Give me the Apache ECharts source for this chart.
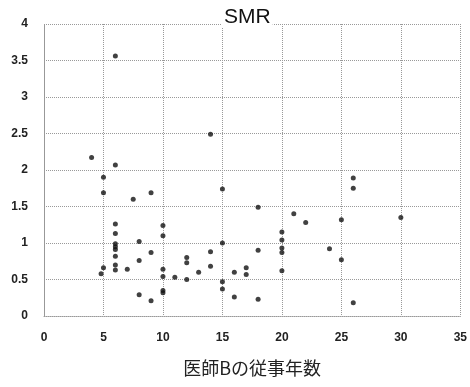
<!DOCTYPE html>
<html>
<head>
<meta charset="utf-8">
<script src="https://cdn.jsdelivr.net/npm/echarts@6/dist/echarts.min.js"></script>
<style>
  html, body { margin: 0; padding: 0; background: #fff; }
  #chart { width: 470px; height: 387px; }
</style>
</head>
<body>
<div id="chart"></div>
<script>
// Years of practice for physician B
const years = [
  6, 14, 4, 6, 5, 5, 7.5, 9, 15,
  6, 6, 6, 6, 6, 6, 6, 6, 5, 4.8, 7,
  8, 8, 9, 8, 9,
  10, 10, 10, 10, 10, 10, 11, 12, 12, 12, 13, 14, 14,
  15, 15, 15, 16, 16, 17, 17,
  18, 18, 18, 21, 22, 20, 20, 20, 20, 20,
  24, 25, 25, 26, 26, 26, 30
];
// Standardised mortality ratio
const smr = [
  3.56, 2.49, 2.17, 2.07, 1.90, 1.69, 1.60, 1.69, 1.74,
  1.26, 1.13, 0.99, 0.95, 0.91, 0.82, 0.70, 0.63, 0.66, 0.58, 0.64,
  1.02, 0.76, 0.87, 0.29, 0.21,
  1.24, 1.10, 0.64, 0.54, 0.35, 0.32, 0.53, 0.80, 0.73, 0.50, 0.60, 0.88, 0.68,
  1.00, 0.47, 0.37, 0.60, 0.26, 0.66, 0.57,
  1.49, 0.90, 0.23, 1.40, 1.28, 1.15, 1.04, 0.93, 0.87, 0.62,
  0.92, 1.32, 0.77, 1.89, 1.75, 0.18, 1.35
];
const points = years.map((x, i) => [x, smr[i]]);

const chart = echarts.init(document.getElementById('chart'));
const grid = { type: 'dotted', color: '#999', width: 1 };
const labelFont = { color: '#222', fontSize: 12, fontFamily: 'Liberation Sans', fontWeight: 'bold' };

chart.setOption({
  animation: false,
  title: {
    text: 'SMR',
    left: 222, top: 7,
    padding: [0, 2],
    backgroundColor: '#fff',
    textStyle: { fontSize: 21, fontWeight: 'normal', color: '#111', fontFamily: 'Liberation Sans' }
  },
  grid: { left: 44, right: 8, top: 24, bottom: 71, show: true, borderColor: 'transparent' },
  xAxis: {
    type: 'value', min: 0, max: 35, interval: 5,
    name: '医師Bの従事年数', nameLocation: 'middle', nameGap: 43,
    nameTextStyle: { fontSize: 18, color: '#222', fontFamily: 'Noto Sans CJK JP' },
    axisLine: { show: true, lineStyle: grid },
    axisTick: { show: false },
    axisLabel: Object.assign({ margin: 16 }, labelFont),
    splitLine: { show: true, lineStyle: grid }
  },
  yAxis: {
    type: 'value', min: 0, max: 4, interval: 0.5,
    axisLine: { show: true, lineStyle: grid },
    axisTick: { show: false },
    axisLabel: Object.assign({ margin: 16 }, labelFont),
    splitLine: { show: true, lineStyle: grid }
  },
  series: [{
    type: 'scatter',
    data: points,
    symbolSize: 5,
    itemStyle: { color: '#111' }
  }]
});
</script>
</body>
</html>
